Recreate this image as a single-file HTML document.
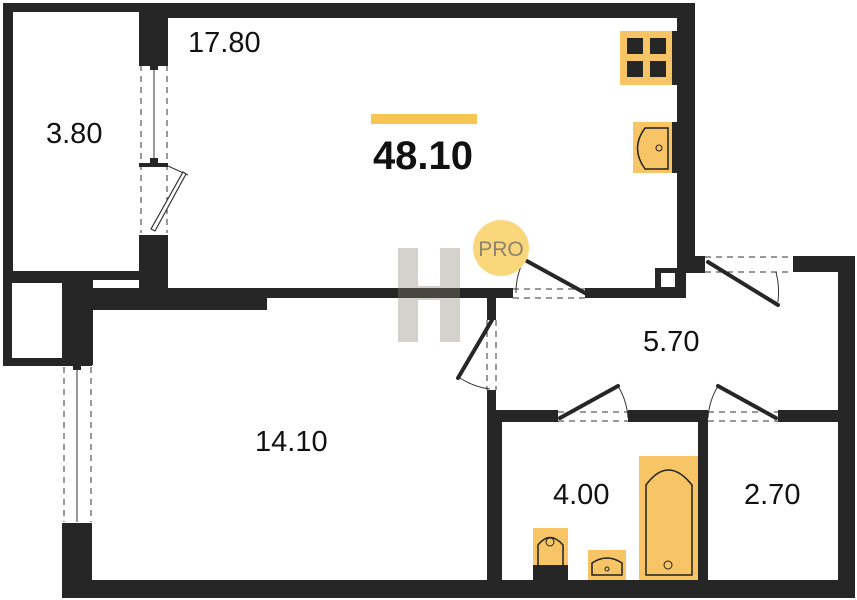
<!DOCTYPE html>
<html><head><meta charset="utf-8"><style>
html,body{margin:0;padding:0;background:#fff;}
svg{display:block;}
text{font-family:"Liberation Sans",sans-serif;fill:#111;}
</style></head><body>
<svg width="857" height="600" viewBox="0 0 857 600" xmlns="http://www.w3.org/2000/svg">
<g fill="#262626">
<rect x="3" y="3" width="10" height="277"/>
<rect x="3" y="3" width="165" height="9"/>
<rect x="3" y="271" width="165" height="9"/>
<rect x="139" y="3" width="29" height="60"/>
<rect x="139" y="235" width="29" height="60"/>
<rect x="139" y="3" width="556" height="15"/>
<rect x="677" y="3" width="18" height="270"/>
<rect x="677" y="256" width="28" height="17"/>
<rect x="655" y="268" width="31" height="30"/>
<rect x="60" y="288" width="453" height="10"/>
<rect x="585" y="288" width="100" height="10"/>
<rect x="63" y="280" width="30" height="85"/>
<rect x="92" y="288" width="175" height="22"/>
<rect x="3" y="280" width="60" height="86"/>
<rect x="62" y="523" width="30" height="75"/>
<rect x="62" y="580" width="793" height="18"/>
<rect x="487" y="298" width="9" height="22"/>
<rect x="487" y="390" width="9" height="200"/>
<rect x="487" y="410" width="15" height="180"/>
<rect x="793" y="256" width="62" height="16"/>
<rect x="838" y="256" width="17" height="342"/>
<rect x="496" y="410" width="62" height="12"/>
<rect x="628" y="410" width="80" height="12"/>
<rect x="778" y="410" width="62" height="12"/>
<rect x="698" y="410" width="10" height="180"/>
</g>
<rect x="12" y="283" width="50" height="75" fill="#fff"/>
<rect x="661" y="273" width="14" height="14" fill="#fff"/>
<rect x="503" y="566" width="14" height="14" fill="#fff"/>

<g stroke="#333" fill="none">
<line x1="141" y1="65" x2="141" y2="233" stroke-dasharray="6,5"/>
<line x1="167" y1="65" x2="167" y2="233" stroke-dasharray="6,5"/>
<line x1="154" y1="68" x2="154" y2="160"/>
<line x1="64" y1="367" x2="64" y2="522" stroke-dasharray="6,5"/>
<line x1="91" y1="367" x2="91" y2="522" stroke-dasharray="6,5"/>
<line x1="77" y1="367" x2="77" y2="522"/>
<line x1="513" y1="289" x2="585" y2="289" stroke-dasharray="6,5"/>
<line x1="513" y1="298" x2="585" y2="298" stroke-dasharray="6,5"/>
<line x1="487" y1="320" x2="487" y2="390" stroke-dasharray="6,5"/>
<line x1="496" y1="320" x2="496" y2="390" stroke-dasharray="6,5"/>
<line x1="705" y1="257" x2="793" y2="257" stroke-dasharray="6,5"/>
<line x1="705" y1="272" x2="793" y2="272" stroke-dasharray="6,5"/>
<line x1="558" y1="412" x2="628" y2="412" stroke-dasharray="6,5"/>
<line x1="558" y1="421" x2="628" y2="421" stroke-dasharray="6,5"/>
<line x1="708" y1="412" x2="778" y2="412" stroke-dasharray="6,5"/>
<line x1="708" y1="421" x2="778" y2="421" stroke-dasharray="6,5"/>
<path d="M516 293 A70 70 0 0 1 525 258"/>
<path d="M460 378 A70 70 0 0 0 490 389"/>
<path d="M776 272 A80 80 0 0 1 778 302" />
<path d="M628 418 A70 70 0 0 0 618 386"/>
<path d="M708 418 A70 70 0 0 1 718 386"/>
<path d="M168 166 L188 175"/>
</g>
<g fill="#262626">
<rect x="139" y="62" width="29" height="4"/><rect x="150" y="62" width="8" height="8"/>
<rect x="139" y="163" width="29" height="4"/><rect x="150" y="158" width="8" height="8"/>
<rect x="62" y="362" width="30" height="4"/><rect x="73" y="364" width="8" height="6"/>
<rect x="62" y="523" width="30" height="4"/>
</g>
<g stroke="#262626" stroke-width="4" stroke-linecap="round">
<line x1="525" y1="260" x2="585" y2="293"/>
<line x1="492" y1="320" x2="458" y2="378"/>
<line x1="708" y1="262" x2="778" y2="305"/>
<line x1="560" y1="418" x2="618" y2="386"/>
<line x1="776" y1="418" x2="718" y2="386"/>
</g>
<path d="M186 174 L155 231 L151 229 L183 172 Z" fill="#fff" stroke="#333" stroke-width="1.2"/>
<g opacity="0.35" fill="#8a7f73">
<rect x="398" y="248" width="20" height="94"/>
<rect x="440" y="248" width="20" height="94"/>
<rect x="398" y="286" width="62" height="14"/>
</g>
<circle cx="501" cy="248" r="28" fill="#fbd77c"/>
<text x="501" y="256" text-anchor="middle" font-size="21" style="fill:#8c8372">PRO</text>
<rect x="371" y="114" width="106" height="10" fill="#f6c653"/>
<text x="423" y="169" text-anchor="middle" font-size="40" font-weight="bold">48.10</text>
<rect x="620" y="31" width="53" height="54" fill="#f7c565"/>
<rect x="672" y="31" width="5" height="54" fill="#262626"/>
<g fill="#262626"><rect x="627" y="38" width="16" height="16"/><rect x="650" y="38" width="16" height="16"/><rect x="627" y="61" width="16" height="16"/><rect x="650" y="61" width="16" height="16"/></g>
<rect x="633" y="122" width="40" height="51" fill="#f7c565"/>
<rect x="672" y="122" width="5" height="51" fill="#262626"/>
<path d="M645 128 L668 128 L668 169 L645 169 Q630 148 645 128 Z" fill="none" stroke="#222" stroke-width="1.5"/>
<circle cx="659" cy="148" r="3" fill="none" stroke="#222"/>
<rect x="639" y="456" width="59" height="124" fill="#f7c565"/>
<path d="M646 575 L646 485 Q668 455 692 485 L692 575 Z" fill="none" stroke="#222" stroke-width="1.5"/>
<circle cx="668" cy="565" r="4" fill="none" stroke="#222"/>
<rect x="533" y="528" width="35" height="40" fill="#f7c565"/>
<rect x="533" y="565" width="35" height="15" fill="#262626"/>
<path d="M538 565 L538 545 Q550 530 563 545 L563 565" fill="none" stroke="#222" stroke-width="1.5"/>
<circle cx="550" cy="542" r="4" fill="none" stroke="#222"/>
<rect x="588" y="550" width="38" height="30" fill="#f7c565"/>
<path d="M592 575 L592 563 Q607 553 622 563 L622 575 Z" fill="none" stroke="#222" stroke-width="1.5"/>
<circle cx="607" cy="569" r="2" fill="none" stroke="#222"/>
<g font-size="29">
<text x="188" y="52">17.80</text>
<text x="46" y="143">3.80</text>
<text x="255" y="451">14.10</text>
<text x="643" y="351">5.70</text>
<text x="553" y="504">4.00</text>
<text x="744" y="504">2.70</text>
</g>
</svg>
</body></html>
